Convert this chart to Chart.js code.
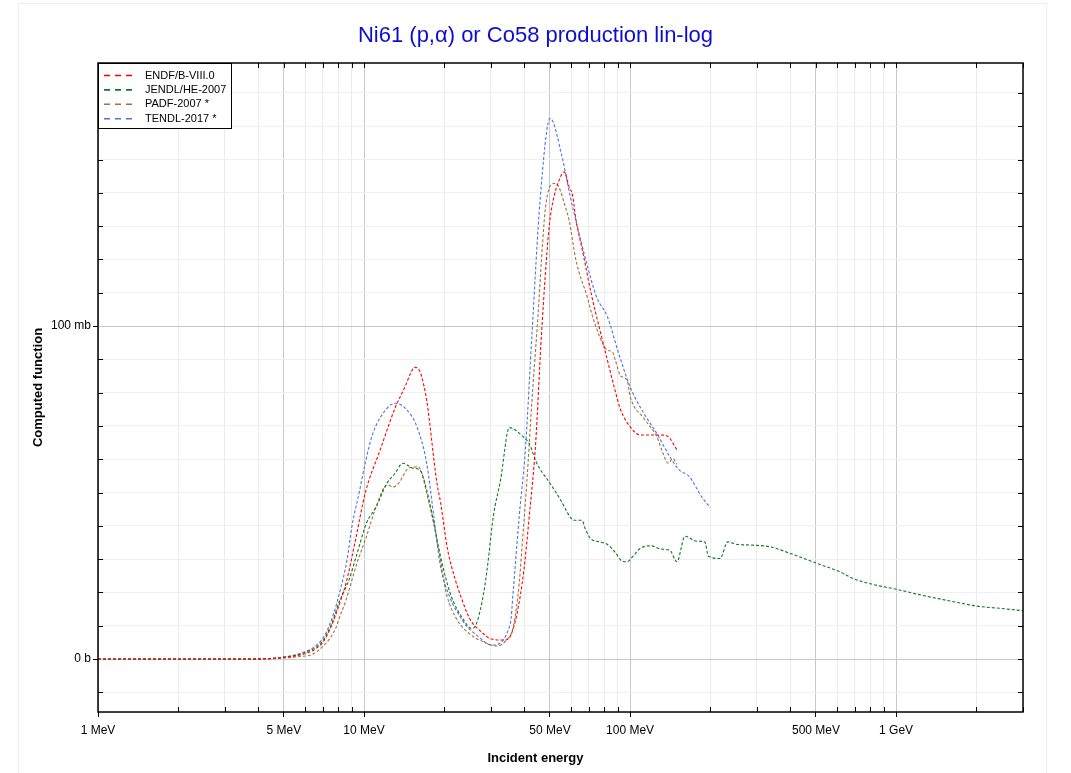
<!DOCTYPE html>
<html>
<head>
<meta charset="utf-8">
<title>Ni61 (p,α) or Co58 production lin-log</title>
<script src="https://cdn.jsdelivr.net/npm/chart.js@4.4.1/dist/chart.umd.min.js"></script>
<style>
 html, body { margin: 0; padding: 0; background: #fff; }
 #wrap { width: 1071px; height: 773px; }
</style>
</head>
<body>
<div id="wrap"><canvas id="xsChart" width="1071" height="773"></canvas></div>
<script>
// incident energy in MeV, cross section in mb
const endfE = [1, 2, 3, 4, 4.5, 5, 5.5, 6, 6.5, 7, 7.5, 8, 8.6, 9.3, 10.1, 11.5, 13.1, 14.3, 15, 15.5, 16.2, 16.8, 17.2, 18.8, 19.4, 20.6, 22, 23.3, 25, 27.3, 30.2, 34, 35.5, 37.6, 39.9, 41.7, 44.1, 46.5, 49.4, 50.9, 54.9, 56.5, 59, 60.8, 62.6, 66.5, 72, 76.5, 81, 87.1, 92.2, 100, 109, 130, 139, 150];
const endfXs = [0, 0, 0, 0.05, 0.2, 0.5, 0.9, 1.6, 2.8, 5, 9.5, 15.5, 23.5, 36, 49.8, 62.8, 75.5, 82, 86, 87.6, 86.5, 82, 77.8, 52.8, 47, 33, 24, 18, 12, 8.5, 6, 5.7, 6.9, 13.7, 26.7, 42, 64, 98, 128, 136, 145, 146.3, 141.8, 139.3, 132, 122, 108.5, 99.8, 91.8, 81.8, 74.8, 69.8, 67.3, 67.3, 66.8, 62.8];

const jendlE = [1, 2, 3, 4, 4.5, 5, 5.5, 6, 6.5, 7, 7.5, 8.1, 8.8, 9.4, 10.2, 11.1, 12.2, 13, 14, 15.3, 16.2, 17.2, 18.3, 19.4, 21.1, 23.7, 25.4, 26.1, 27.7, 29, 30.6, 32.6, 35.2, 39.6, 41.7, 44.6, 50, 54.9, 60, 61.7, 65.8, 68.2, 71, 76.5, 82, 88, 93, 97, 103, 109, 120, 131, 141, 150, 161, 178, 191, 197, 218, 233, 250, 290, 336, 401, 505, 614, 689, 821, 1010, 1277, 1700, 2010, 2480, 3000];
const jendlXs = [0, 0, 0, 0.05, 0.2, 0.6, 1.1, 2, 3.2, 5.5, 10, 17.5, 24, 31.5, 40.7, 45.7, 52.8, 55.5, 58.8, 57.3, 56.8, 50.8, 40.7, 30.7, 19.7, 11.7, 9.2, 9.7, 16.7, 26.7, 42.7, 53.8, 69.5, 66.8, 64.8, 58.8, 52.8, 47.7, 42.3, 41.7, 41.7, 38.7, 36.2, 35.2, 34.5, 32, 29.5, 29.2, 31, 33.2, 34, 33, 32.7, 29.2, 36.9, 35.4, 35.2, 30.9, 30.2, 35.2, 34.5, 34.2, 33.7, 31.7, 28.7, 26.2, 24.2, 22.4, 20.9, 19, 17, 15.9, 15.2, 14.5];

const padfE = [1, 2, 3, 4, 4.5, 5, 5.5, 6, 6.3, 7.05, 7.8, 8.13, 8.5, 9.4, 10.2, 11.1, 12.2, 12.9, 13.5, 14.7, 16, 16.5, 17.2, 18.3, 19.1, 20.4, 22.3, 25, 29, 31.5, 34.3, 36.4, 38.3, 39.6, 40.9, 42.8, 44.6, 48.5, 52, 53.5, 57.6, 59, 62.6, 69, 73, 82.2, 85.8, 88, 92.2, 97.5, 100, 112.6, 126, 133, 139, 145, 150];
const padfXs = [0, 0, 0, 0.03, 0.1, 0.3, 0.6, 0.9, 1.2, 4, 9, 13, 17, 28.7, 36.7, 45.7, 52.3, 51.7, 52.8, 57.3, 57.7, 55.8, 49.8, 40.7, 32.7, 19.7, 12, 7.5, 4.7, 3.9, 5.7, 9.7, 22.7, 37.7, 52.8, 77.8, 97.8, 137.8, 142.8, 142.3, 134.8, 131.8, 119.8, 108.8, 101.8, 92.8, 92.3, 89.8, 85, 83.8, 79, 72.3, 66.8, 61.8, 58.8, 60.2, 58.5];

const tendlE = [1, 2, 3, 4, 4.5, 5, 5.5, 6, 6.46, 7.1, 7.69, 8.14, 8.63, 9, 9.63, 10.1, 10.8, 12.2, 13.1, 14.5, 15.8, 17.2, 18.3, 19.3, 21.1, 23, 24.4, 26.5, 30.2, 35.5, 36.4, 38.3, 40.4, 42.8, 45.9, 50.1, 55.5, 60, 63.4, 68.2, 74.8, 82.2, 90.6, 100, 112.6, 126, 141, 153, 167, 186, 200];
const tendlXs = [0, 0, 0, 0.05, 0.2, 0.6, 1.2, 2.2, 3.5, 7, 13.7, 20.7, 29.7, 39.7, 50.7, 58.8, 67.8, 75.3, 76.8, 74.8, 69.8, 58.8, 42.7, 28.7, 18.2, 12.7, 9.7, 7.2, 4.2, 10.7, 20.7, 42.7, 62.8, 97.8, 137.8, 162.4, 150.8, 137.8, 129.8, 119.8, 108.8, 102.8, 91.8, 81.8, 73.8, 67.8, 60.8, 56.8, 54.8, 48.7, 45.5];

const seriesNames = ['ENDF/B-VIII.0', 'JENDL/HE-2007', 'PADF-2007 *', 'TENDL-2017 *'];
const seriesColors = ['#ff0000', '#0b7a1f', '#a5713d', '#4a74e0'];

const xMajorTicks = [1, 5, 10, 50, 100, 500, 1000];
const xMajorLabels = ['1 MeV', '5 MeV', '10 MeV', '50 MeV', '100 MeV', '500 MeV', '1 GeV'];
const xMinorTicks = [2, 3, 4, 6, 7, 8, 9, 20, 30, 40, 60, 70, 80, 90, 200, 300, 400, 600, 700, 800, 900, 2000, 3000];
const yTicks = [-10, 0, 10, 20, 30, 40, 50, 60, 70, 80, 90, 100, 110, 120, 130, 140, 150, 160, 170];
const yMajorTicks = [0, 100];
const yMajorLabels = ['0 b', '100 mb'];

const X_MIN = 1, X_MAX = 3000;
const Y_MIN = -15.9, Y_MAX = 179;

Chart.defaults.font.family = "'Liberation Sans', Arial, sans-serif";
Chart.defaults.color = '#000';

function toPoints(es, xs) {
 return es.map((e, i) => ({ x: e, y: xs[i] }));
}

const allXTicks = xMajorTicks.concat(xMinorTicks).sort((a, b) => a - b);
const isMajorX = v => xMajorTicks.indexOf(v) >= 0;
const isMajorY = v => yMajorTicks.indexOf(v) >= 0;

// frame, inner ticks and the boxed legend
const framePlugin = {
 id: 'frame',
 beforeDraw(chart) {
  const ctx = chart.ctx;
  ctx.save();
  ctx.fillStyle = '#fff';
  ctx.fillRect(0, 0, chart.width, chart.height);
  ctx.strokeStyle = '#ededed';
  ctx.lineWidth = 1;
  ctx.strokeRect(18.5, 3.5, 1028, 800);
  ctx.restore();
 },
 afterDraw(chart) {
  const { ctx, chartArea: a, scales } = chart;
  const x = scales.x, y = scales.y;
  ctx.save();
  ctx.strokeStyle = '#000';
  ctx.lineWidth = 1;
  ctx.beginPath();
  x.ticks.forEach(t => {
   const px = Math.round(x.getPixelForValue(t.value)) + 0.5;
   if (!isMajorX(t.value)) { ctx.moveTo(px, a.bottom); ctx.lineTo(px, a.bottom - 5); }
   ctx.moveTo(px, a.top); ctx.lineTo(px, a.top + 5);
  });
  y.ticks.forEach(t => {
   const py = Math.round(y.getPixelForValue(t.value)) + 0.5;
   if (!isMajorY(t.value)) { ctx.moveTo(a.left, py); ctx.lineTo(a.left + 5, py); }
   ctx.moveTo(a.right, py); ctx.lineTo(a.right - 5, py);
  });
  ctx.stroke();
  ctx.lineWidth = 1.5;
  ctx.strokeRect(a.left, a.top, a.right - a.left, a.bottom - a.top);

  // legend box
  const lx = a.left, ly = a.top, lw = 133, lh = 65;
  ctx.fillStyle = '#fff';
  ctx.fillRect(lx, ly, lw, lh);
  ctx.lineWidth = 1;
  ctx.strokeRect(lx + 0.5, ly + 0.5, lw, lh);
  ctx.font = "11px 'Liberation Sans', Arial, sans-serif";
  ctx.textBaseline = 'middle';
  chart.data.datasets.forEach((ds, i) => {
   const ry = ly + 12.5 + i * 14.4;
   ctx.strokeStyle = ds.borderColor;
   ctx.lineWidth = 1.6;
   ctx.setLineDash([6, 5]);
   ctx.beginPath();
   ctx.moveTo(lx + 6, ry); ctx.lineTo(lx + 34, ry);
   ctx.stroke();
   ctx.setLineDash([]);
   ctx.fillStyle = '#000';
   ctx.fillText(ds.label, lx + 47, ry);
  });
  ctx.restore();
 }
};

const seriesData = [
 toPoints(endfE, endfXs),
 toPoints(jendlE, jendlXs),
 toPoints(padfE, padfXs),
 toPoints(tendlE, tendlXs)
];

new Chart(document.getElementById('xsChart'), {
 type: 'scatter',
 data: {
  datasets: seriesData.map((pts, i) => ({
   label: seriesNames[i],
   data: pts,
   showLine: true,
   borderColor: seriesColors[i],
   backgroundColor: seriesColors[i],
   borderWidth: 1.1,
   borderDash: [3, 2],
   pointRadius: 0,
   pointHoverRadius: 0,
   cubicInterpolationMode: 'monotone'
  }))
 },
 options: {
  responsive: false,
  animation: false,
  devicePixelRatio: 1,
  layout: { padding: 0 },
  plugins: {
   legend: { display: false },
   tooltip: { enabled: false },
   title: {
    display: true,
    text: 'Ni61 (p,α) or Co58 production lin-log',
    color: '#0d0dd0',
    font: { size: 22, weight: 'normal' },
    padding: { top: 23, bottom: 13.6 }
   },
   subtitle: {
    display: true,
    position: 'bottom',
    text: 'Incident energy',
    color: '#000',
    font: { size: 13, weight: 'bold' },
    padding: { top: 0, bottom: 7 }
   }
  },
  scales: {
   x: {
    type: 'logarithmic',
    min: X_MIN,
    max: X_MAX,
    afterBuildTicks: s => { s.ticks = allXTicks.map(v => ({ value: v })); },
    afterFit: s => { s.height = 38.4; },
    ticks: {
     autoSkip: false,
     maxRotation: 0,
     minRotation: 0,
     padding: 6,
     font: { size: 12 },
     callback: v => { const k = xMajorTicks.indexOf(v); return k >= 0 ? xMajorLabels[k] : ''; }
    },
    grid: {
     color: c => (c.tick && isMajorX(c.tick.value)) ? '#c8c8c8' : '#ececec',
     tickColor: c => (c.tick && isMajorX(c.tick.value)) ? '#000' : 'rgba(0,0,0,0)',
     tickLength: 5,
     lineWidth: 1
    },
    border: { display: false }
   },
   y: {
    type: 'linear',
    min: Y_MIN,
    max: Y_MAX,
    afterBuildTicks: s => { s.ticks = yTicks.map(v => ({ value: v })); },
    afterFit: s => { s.width = 98; },
    ticks: {
     autoSkip: false,
     padding: 2,
     font: { size: 12 },
     callback: v => { const k = yMajorTicks.indexOf(v); return k >= 0 ? yMajorLabels[k] : ''; }
    },
    grid: {
     color: c => (c.tick && isMajorY(c.tick.value)) ? '#c8c8c8' : '#efefef',
     tickColor: c => (c.tick && isMajorY(c.tick.value)) ? '#000' : 'rgba(0,0,0,0)',
     tickLength: 5,
     lineWidth: 1
    },
    border: { display: false },
    title: {
     display: true,
     text: 'Computed function',
     font: { size: 13, weight: 'bold' },
     padding: { top: 31, bottom: 0 }
    }
   },
   y2: {
    type: 'linear',
    position: 'right',
    min: Y_MIN,
    max: Y_MAX,
    afterFit: s => { s.width = 48; },
    ticks: { display: false },
    grid: { display: false, drawOnChartArea: false },
    border: { display: false }
   }
  }
 },
 plugins: [framePlugin]
});
</script>
</body>
</html>
